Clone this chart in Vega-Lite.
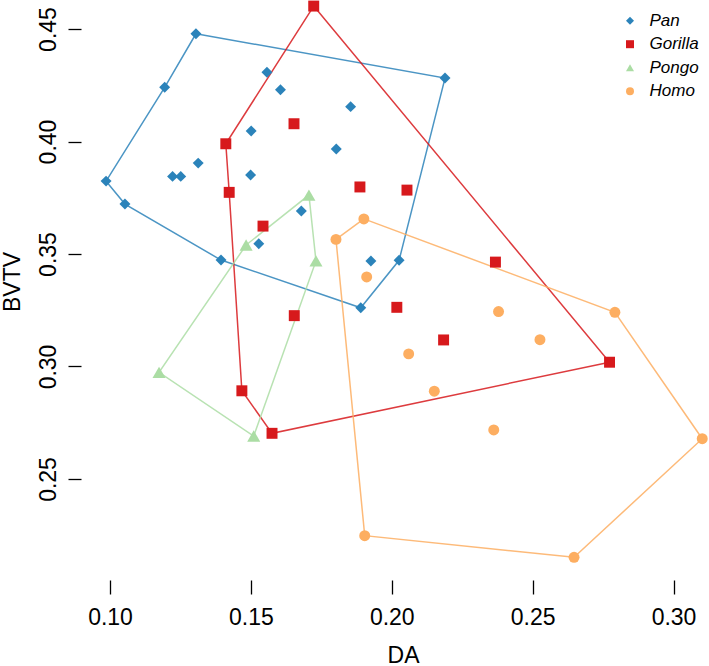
{
  "$schema": "https://vega.github.io/schema/vega-lite/v6.json",
  "width": 628,
  "height": 580,
  "autosize": {"type": "none"},
  "padding": {"left": 81, "top": 0, "right": 0, "bottom": 86},
  "background": "white",
  "datasets": {
    "points": [
      {"species": "Pan", "DA": 0.1305, "BVTV": 0.4479},
      {"species": "Pan", "DA": 0.1194, "BVTV": 0.4241},
      {"species": "Pan", "DA": 0.0986, "BVTV": 0.3824},
      {"species": "Pan", "DA": 0.1053, "BVTV": 0.3722},
      {"species": "Pan", "DA": 0.1557, "BVTV": 0.4308},
      {"species": "Pan", "DA": 0.1605, "BVTV": 0.4230},
      {"species": "Pan", "DA": 0.1501, "BVTV": 0.4047},
      {"species": "Pan", "DA": 0.1803, "BVTV": 0.3967},
      {"species": "Pan", "DA": 0.1854, "BVTV": 0.4155},
      {"species": "Pan", "DA": 0.2189, "BVTV": 0.4282},
      {"species": "Pan", "DA": 0.1313, "BVTV": 0.3904},
      {"species": "Pan", "DA": 0.1222, "BVTV": 0.3845},
      {"species": "Pan", "DA": 0.1251, "BVTV": 0.3845},
      {"species": "Pan", "DA": 0.1499, "BVTV": 0.3851},
      {"species": "Pan", "DA": 0.1679, "BVTV": 0.3691},
      {"species": "Pan", "DA": 0.1528, "BVTV": 0.3546},
      {"species": "Pan", "DA": 0.1394, "BVTV": 0.3473},
      {"species": "Pan", "DA": 0.1926, "BVTV": 0.3469},
      {"species": "Pan", "DA": 0.2026, "BVTV": 0.3472},
      {"species": "Pan", "DA": 0.1890, "BVTV": 0.3261},
      {"species": "Gorilla", "DA": 0.1723, "BVTV": 0.4602},
      {"species": "Gorilla", "DA": 0.1653, "BVTV": 0.4079},
      {"species": "Gorilla", "DA": 0.1411, "BVTV": 0.3990},
      {"species": "Gorilla", "DA": 0.1423, "BVTV": 0.3774},
      {"species": "Gorilla", "DA": 0.1887, "BVTV": 0.3798},
      {"species": "Gorilla", "DA": 0.2054, "BVTV": 0.3784},
      {"species": "Gorilla", "DA": 0.1543, "BVTV": 0.3624},
      {"species": "Gorilla", "DA": 0.1654, "BVTV": 0.3226},
      {"species": "Gorilla", "DA": 0.1468, "BVTV": 0.2892},
      {"species": "Gorilla", "DA": 0.1575, "BVTV": 0.2703},
      {"species": "Gorilla", "DA": 0.2368, "BVTV": 0.3464},
      {"species": "Gorilla", "DA": 0.2018, "BVTV": 0.3263},
      {"species": "Gorilla", "DA": 0.2184, "BVTV": 0.3118},
      {"species": "Gorilla", "DA": 0.2773, "BVTV": 0.3019},
      {"species": "Pongo", "DA": 0.1483, "BVTV": 0.3540},
      {"species": "Pongo", "DA": 0.1706, "BVTV": 0.3762},
      {"species": "Pongo", "DA": 0.1731, "BVTV": 0.3469},
      {"species": "Pongo", "DA": 0.1510, "BVTV": 0.2691},
      {"species": "Pongo", "DA": 0.1174, "BVTV": 0.2974},
      {"species": "Homo", "DA": 0.1901, "BVTV": 0.3656},
      {"species": "Homo", "DA": 0.1802, "BVTV": 0.3565},
      {"species": "Homo", "DA": 0.1911, "BVTV": 0.3398},
      {"species": "Homo", "DA": 0.2379, "BVTV": 0.3244},
      {"species": "Homo", "DA": 0.2792, "BVTV": 0.3241},
      {"species": "Homo", "DA": 0.2526, "BVTV": 0.3119},
      {"species": "Homo", "DA": 0.2060, "BVTV": 0.3056},
      {"species": "Homo", "DA": 0.2151, "BVTV": 0.2890},
      {"species": "Homo", "DA": 0.2362, "BVTV": 0.2718},
      {"species": "Homo", "DA": 0.3102, "BVTV": 0.2679},
      {"species": "Homo", "DA": 0.1904, "BVTV": 0.2248},
      {"species": "Homo", "DA": 0.2647, "BVTV": 0.2152}
    ],
    "hulls": [
      {"species": "Pan", "order": 1, "DA": 0.1305, "BVTV": 0.4479},
      {"species": "Pan", "order": 2, "DA": 0.2189, "BVTV": 0.4282},
      {"species": "Pan", "order": 3, "DA": 0.2026, "BVTV": 0.3472},
      {"species": "Pan", "order": 4, "DA": 0.1890, "BVTV": 0.3261},
      {"species": "Pan", "order": 5, "DA": 0.1394, "BVTV": 0.3473},
      {"species": "Pan", "order": 6, "DA": 0.1053, "BVTV": 0.3722},
      {"species": "Pan", "order": 7, "DA": 0.0986, "BVTV": 0.3824},
      {"species": "Pan", "order": 8, "DA": 0.1194, "BVTV": 0.4241},
      {"species": "Pan", "order": 9, "DA": 0.1305, "BVTV": 0.4479},
      {"species": "Gorilla", "order": 1, "DA": 0.1723, "BVTV": 0.4602},
      {"species": "Gorilla", "order": 2, "DA": 0.2773, "BVTV": 0.3019},
      {"species": "Gorilla", "order": 3, "DA": 0.1575, "BVTV": 0.2703},
      {"species": "Gorilla", "order": 4, "DA": 0.1468, "BVTV": 0.2892},
      {"species": "Gorilla", "order": 5, "DA": 0.1423, "BVTV": 0.3774},
      {"species": "Gorilla", "order": 6, "DA": 0.1411, "BVTV": 0.3990},
      {"species": "Gorilla", "order": 7, "DA": 0.1723, "BVTV": 0.4602},
      {"species": "Pongo", "order": 1, "DA": 0.1483, "BVTV": 0.3540},
      {"species": "Pongo", "order": 2, "DA": 0.1706, "BVTV": 0.3762},
      {"species": "Pongo", "order": 3, "DA": 0.1731, "BVTV": 0.3469},
      {"species": "Pongo", "order": 4, "DA": 0.1510, "BVTV": 0.2691},
      {"species": "Pongo", "order": 5, "DA": 0.1174, "BVTV": 0.2974},
      {"species": "Pongo", "order": 6, "DA": 0.1483, "BVTV": 0.3540},
      {"species": "Homo", "order": 1, "DA": 0.1901, "BVTV": 0.3656},
      {"species": "Homo", "order": 2, "DA": 0.2792, "BVTV": 0.3241},
      {"species": "Homo", "order": 3, "DA": 0.3102, "BVTV": 0.2679},
      {"species": "Homo", "order": 4, "DA": 0.2647, "BVTV": 0.2152},
      {"species": "Homo", "order": 5, "DA": 0.1904, "BVTV": 0.2248},
      {"species": "Homo", "order": 6, "DA": 0.1802, "BVTV": 0.3565},
      {"species": "Homo", "order": 7, "DA": 0.1901, "BVTV": 0.3656}
    ]
  },
  "encoding": {
    "x": {
      "field": "DA", "type": "quantitative",
      "scale": {"domain": [0.0897, 0.3126], "nice": false, "zero": false},
      "axis": {
        "values": [0.1, 0.15, 0.2, 0.25, 0.3], "format": ".2f",
        "domain": false, "grid": false,
        "tickSize": 14, "tickWidth": 1.3, "tickColor": "#000",
        "labelFontSize": 23, "labelFont": "Liberation Sans", "labelColor": "#000",
        "labelPadding": 12, "labelFlush": false, "labelOverlap": false,
        "title": "DA", "titleFontSize": 23, "titleFont": "Liberation Sans",
        "titleFontWeight": "normal", "titleColor": "#000",
        "titleX": 322, "titleY": 82, "titleBaseline": "alphabetic", "titleAlign": "center"
      }
    },
    "y": {
      "field": "BVTV", "type": "quantitative",
      "scale": {"domain": [0.2051, 0.4629], "nice": false, "zero": false},
      "axis": {
        "values": [0.25, 0.3, 0.35, 0.4, 0.45], "format": ".2f",
        "domain": false, "grid": false,
        "tickSize": 13, "tickWidth": 1.3, "tickColor": "#000",
        "labelFontSize": 23, "labelFont": "Liberation Sans", "labelColor": "#000",
        "labelAngle": -90, "labelAlign": "center", "labelBaseline": "bottom",
        "labelPadding": 8, "labelOverlap": false, "labelFlush": false,
        "title": "BVTV", "titleFontSize": 23, "titleFont": "Liberation Sans",
        "titleFontWeight": "normal", "titleColor": "#000",
        "titleAngle": 270, "titleX": -61.5, "titleY": 281.5,
        "titleBaseline": "alphabetic", "titleAlign": "center"
      }
    },
    "color": {
      "field": "species", "type": "nominal",
      "scale": {"domain": ["Pan", "Gorilla", "Pongo", "Homo"], "range": ["#2b83ba", "#d7191c", "#abdda4", "#fdae61"]},
      "legend": {
        "title": null, "orient": "none", "legendX": 540.5, "legendY": 12.2,
        "labelFont": "Liberation Sans", "labelFontStyle": "italic", "labelFontSize": 17,
        "labelColor": "#000", "symbolSize": 64, "rowPadding": 5.5, "labelOffset": 11,
        "padding": 0, "symbolStrokeWidth": 0, "symbolOpacity": 1, "symbolType": "circle"
      }
    }
  },
  "layer": [
    {
      "data": {"values": [{}]},
      "mark": {"type": "rule", "color": "#000", "strokeWidth": 1.3},
      "encoding": {
        "x": {"datum": 0.1, "type": "quantitative"},
        "x2": {"datum": 0.3},
        "y": {"datum": 0.2051, "type": "quantitative"},
        "color": {"value": "#000"}
      }
    },
    {
      "data": {"values": [{}]},
      "mark": {"type": "rule", "color": "#000", "strokeWidth": 1.3},
      "encoding": {
        "x": {"datum": 0.0897, "type": "quantitative"},
        "y": {"datum": 0.25, "type": "quantitative"},
        "y2": {"datum": 0.45},
        "color": {"value": "#000"}
      }
    },
    {
      "data": {"name": "hulls"},
      "mark": {"type": "line", "strokeWidth": 1.5, "strokeOpacity": 0.85},
      "encoding": {
        "order": {"field": "order", "type": "quantitative"}
      }
    },
    {
      "data": {"name": "points"},
      "transform": [{"filter": "datum.species !== 'Pongo'"}],
      "mark": {"type": "point", "filled": true, "opacity": 1, "strokeWidth": 0, "size": 120},
      "encoding": {
        "shape": {
          "field": "species", "type": "nominal",
          "scale": {"domain": ["Pan", "Gorilla", "Pongo", "Homo"], "range": ["diamond", "square", "triangle-up", "circle"]}
        }
      }
    },
    {
      "data": {"name": "points"},
      "transform": [{"filter": "datum.species === 'Pongo'"}],
      "mark": {"type": "point", "filled": true, "opacity": 1, "strokeWidth": 0, "size": 170},
      "encoding": {
        "shape": {
          "field": "species", "type": "nominal",
          "scale": {"domain": ["Pan", "Gorilla", "Pongo", "Homo"], "range": ["diamond", "square", "triangle-up", "circle"]}
        }
      }
    }
  ],
  "config": {"view": {"stroke": null}}
}
